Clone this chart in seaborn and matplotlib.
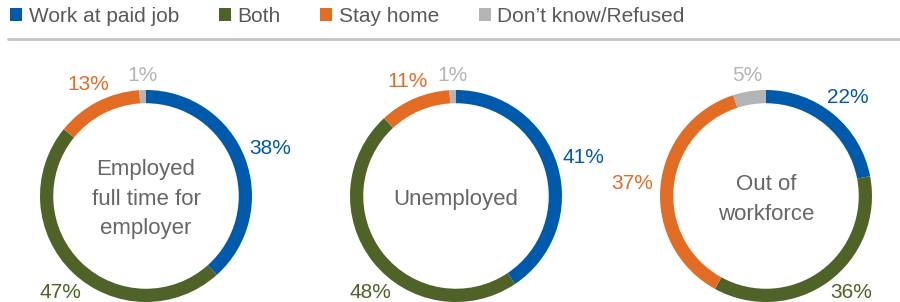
import numpy as np
import matplotlib.pyplot as plt
import seaborn as sns
from matplotlib.patches import Patch
from matplotlib.lines import Line2D

# data
categories = ["Work at paid job", "Both", "Stay home", "Don\u2019t know/Refused"]
groups = ["Employed\nfull time for\nemployer", "Unemployed", "Out of\nworkforce"]
employed = [38, 47, 13, 1]
unemployed = [41, 48, 11, 1]
out_of_workforce = [22, 36, 37, 5]
colors = ["#005aab", "#4f6228", "#e36c25", "#b2b4b6"]

sns.set_theme(style="white")
plt.rcParams['font.family'] = ['Liberation Sans', 'DejaVu Sans']

fig = plt.figure(figsize=(9, 3.02), dpi=100)

centers_x = [146, 456, 766]
R = 106  # ring radius in pixels
for cx, vals, name in zip(centers_x, [employed, unemployed, out_of_workforce], groups):
    ax = fig.add_axes([(cx - R) / 900, (106 - R) / 302, 2 * R / 900, 2 * R / 302])
    wedges, _ = ax.pie(vals, colors=colors, startangle=90, counterclock=False,
                       radius=1, wedgeprops=dict(width=0.125, linewidth=0))
    # percent labels just outside the ring, kept above the bottom edge
    for w, v, c in zip(wedges, vals, colors):
        a = np.deg2rad((w.theta1 + w.theta2) / 2)
        r = 1 + 7 / R + np.hypot(21 / R * np.cos(a), 8 / R * np.sin(a))
        x, y = r * np.cos(a), r * np.sin(a)
        if np.sin(a) < -0.55:
            y = -0.915
            x = np.sign(x) * np.sqrt(1.22 ** 2 - y ** 2)
        ax.text(x, y, f"{v}%", color=c, fontsize=15, ha='center', va='center')
    ax.text(0, -0.03, name, ha='center', va='center', fontsize=16, color='#666666',
            linespacing=1.55)
    ax.set_xlim(-1, 1)
    ax.set_ylim(-1, 1)
    ax.set_aspect('equal')
    ax.axis('off')

handles = [Patch(facecolor=c, edgecolor='none') for c in colors]
fig.legend(handles, categories, loc='center left', bbox_to_anchor=(10 / 900, 1 - 16 / 302),
           ncol=4, frameon=False, fontsize=15, handlelength=0.58, handleheight=0.58,
           handletextpad=0.32, columnspacing=1.9, labelcolor='#595959', borderaxespad=0,
           borderpad=0)
fig.add_artist(Line2D([8 / 900, 1], [1 - 39 / 302, 1 - 39 / 302], color='#c4c4c4',
                      linewidth=2, transform=fig.transFigure))

fig.savefig("out.png", dpi=100)
